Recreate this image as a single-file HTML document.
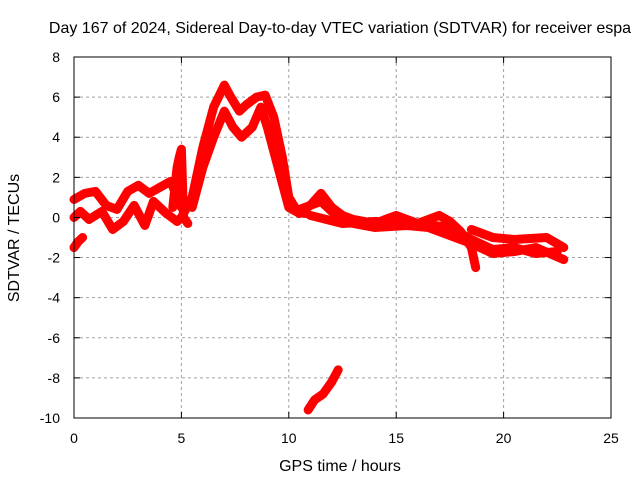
<!DOCTYPE html>
<html><head><meta charset="utf-8"><style>
body{margin:0;background:#fff}
svg text{font-family:"Liberation Sans",sans-serif;font-size:14px;fill:#000}
svg text.big{font-size:16px}
</style></head><body>
<svg width="640" height="480">
<text class="big" x="340" y="33" text-anchor="middle">Day 167 of 2024, Sidereal Day-to-day VTEC variation (SDTVAR) for receiver espa</text>
<g id="grid"></g>
<g id="marks"></g>
<rect x="74" y="57" width="537" height="361" fill="none" stroke="#000" stroke-width="1"/>
<g id="ticks"></g>
<text class="big" x="340" y="471" text-anchor="middle">GPS time / hours</text>
<text class="big" transform="translate(19,238) rotate(-90)" text-anchor="middle">SDTVAR / TECUs</text>
</svg>
<script>
const xTicks=[0,5,10,15,20,25];
const yTicks=[-10,-8,-6,-4,-2,0,2,4,6,8];
const traceEarlyA_t=[0,0.5,1,1.5,2,2.5,3,3.5,4,4.5,5];
const traceEarlyA_v=[0.9,1.2,1.3,0.6,0.4,1.3,1.6,1.2,1.5,1.8,0.5];
const traceEarlyB_t=[0,0.3,0.7,1.3,1.8,2.3,2.8,3.3,3.7,4.3,4.8];
const traceEarlyB_v=[0,0.3,-0.1,0.3,-0.6,-0.2,0.6,-0.4,0.8,0.2,-0.2];
const traceStart_t=[0,0.2,0.4];
const traceStart_v=[-1.5,-1.2,-1.0];
const traceSpike_t=[4.6,4.8,4.9,5,5.1,5.3];
const traceSpike_v=[0.5,2.5,3,3.4,0,-0.3];
const traceMain_t=[4.8,5,5.5,6,6.5,7,7.3,7.7,8,8.5,8.9,9.3,9.7,10,10.4,10.8];
const traceMain_v=[-0.2,0,1,3.5,5.5,6.6,6,5.3,5.6,6,6.1,5,3,1,0.3,0.2];
const tracePeak2_t=[5.5,6,6.5,7,7.4,7.8,8.3,8.7,9,9.5,10,10.5];
const tracePeak2_v=[0.5,2.5,4,5.3,4.5,4,4.5,5.5,4.5,2.5,0.5,0.2];
const traceLate1_t=[10.5,11,11.5,12,12.5,13,14,15,16,17,17.5,18,18.5,18.7];
const traceLate1_v=[0.2,0.6,1.2,0.5,0.1,-0.1,-0.3,0.1,-0.3,0.1,-0.2,-0.7,-1.5,-2.5];
const traceLate2_t=[10.5,11.5,12.5,14,15.5,16.5,17.5,18.5,19.5,20.5,21.5,22.8];
const traceLate2_v=[0.4,0.8,-0.2,-0.5,-0.4,-0.5,-0.9,-1.3,-1.8,-1.7,-1.5,-2.1];
const traceLate3_t=[11,12.5,14,16,17.5,18.5,19.5,20.5,21.5,22.5];
const traceLate3_v=[0.1,-0.3,-0.2,-0.3,-0.5,-1.1,-1.6,-1.5,-1.8,-1.7];
const traceLate4_t=[18.5,19.5,20.5,22,22.8];
const traceLate4_v=[-0.6,-1.0,-1.1,-1.0,-1.5];
const traceDip_t=[10.9,11.2,11.6,12,12.3];
const traceDip_v=[-9.6,-9.1,-8.8,-8.2,-7.6];
const traces=[[traceEarlyA_t,traceEarlyA_v],[traceEarlyB_t,traceEarlyB_v],[traceStart_t,traceStart_v],[traceSpike_t,traceSpike_v],[traceMain_t,traceMain_v],[tracePeak2_t,tracePeak2_v],[traceLate1_t,traceLate1_v],[traceLate2_t,traceLate2_v],[traceLate3_t,traceLate3_v],[traceLate4_t,traceLate4_v],[traceDip_t,traceDip_v]];
const X=t=>74+t*(537/25), Y=v=>57+(8-v)*(361/18);
const NS='http://www.w3.org/2000/svg';
const grid=document.getElementById('grid'),ticks=document.getElementById('ticks'),marks=document.getElementById('marks');
function mk(tag,attrs,parent){const e=document.createElementNS(NS,tag);for(const k in attrs)e.setAttribute(k,attrs[k]);parent.appendChild(e);return e;}
xTicks.forEach(t=>{
  if(t>0&&t<25){const g=mk('line',{x1:X(t),x2:X(t),y1:57,y2:418,stroke:'#a0a0a0','stroke-dasharray':'3,3'},grid);
  
  }
  mk('line',{x1:X(t),x2:X(t),y1:418,y2:412,stroke:'#000'},ticks);
  mk('line',{x1:X(t),x2:X(t),y1:57,y2:63,stroke:'#000'},ticks);
  const tx=mk('text',{x:X(t),y:443,'text-anchor':'middle'},ticks);tx.textContent=t;
  
  
});
yTicks.forEach(v=>{
  if(v>-10&&v<8){const g=mk('line',{x1:74,x2:611,y1:Y(v),y2:Y(v),stroke:'#a0a0a0','stroke-dasharray':'3,3'},grid);
  
  }
  mk('line',{x1:74,x2:80,y1:Y(v),y2:Y(v),stroke:'#000'},ticks);
  mk('line',{x1:605,x2:611,y1:Y(v),y2:Y(v),stroke:'#000'},ticks);
  const tx=mk('text',{x:60,y:Y(v)+5,'text-anchor':'end'},ticks);tx.textContent=v;
  
  
});
traces.forEach(([ts,vs])=>{
  const p=mk('polyline',{points:ts.map((t,i)=>X(t)+','+Y(vs[i])).join(' '),fill:'none',stroke:'#ff0000','stroke-width':9,'stroke-linejoin':'round','stroke-linecap':'round'},marks);
  
  
});
</script>
</body></html>
